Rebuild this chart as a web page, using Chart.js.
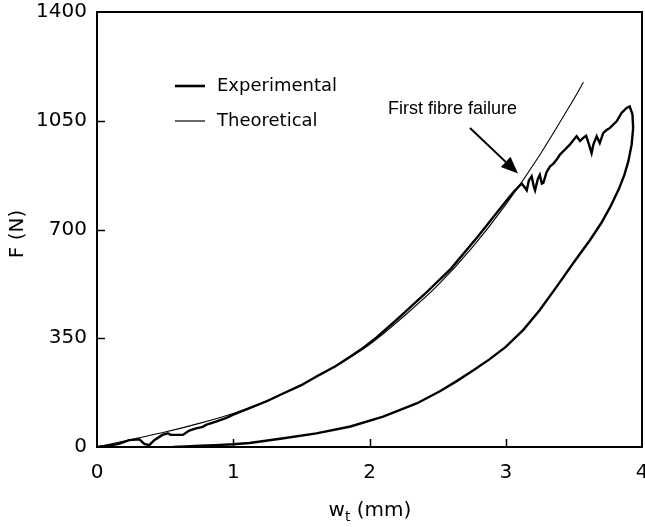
<!DOCTYPE html>
<html>
<head>
<meta charset="utf-8">
<script src="https://cdn.jsdelivr.net/npm/chart.js@4/dist/chart.umd.min.js"></script>
<style>
  body { margin: 0; background: #fff; }
  #wrap { width: 645px; height: 527px; }
</style>
</head>
<body>
<div id="wrap"><canvas id="loadChart" width="645" height="527"></canvas></div>
<script>
// deflection (mm) and load (N), loading branch then unloading branch
const expW = [0, 0.08, 0.16, 0.237, 0.31, 0.347, 0.384, 0.42, 0.48, 0.52, 0.54, 0.63, 0.677, 0.727, 0.776, 0.8, 0.873, 0.95,
  1.0, 1.12, 1.25, 1.37, 1.5, 1.61, 1.75, 1.86, 1.95, 2.05, 2.2, 2.4, 2.6, 2.8, 3.0, 3.06, 3.117,
  3.14, 3.154, 3.17, 3.19, 3.205, 3.215, 3.235, 3.25, 3.265, 3.276, 3.3, 3.325, 3.35, 3.374, 3.398, 3.43, 3.47, 3.5,
  3.52, 3.545, 3.569, 3.59, 3.61, 3.63, 3.643, 3.667, 3.69, 3.716, 3.74, 3.765, 3.79, 3.814, 3.85, 3.887, 3.91,
  3.93, 3.935, 3.924, 3.9, 3.87, 3.83, 3.77, 3.7, 3.62, 3.496, 3.374, 3.25, 3.129, 3.0, 2.88, 2.76, 2.64,
  2.52, 2.35, 2.1, 1.86, 1.61, 1.37, 1.12, 1.0, 0.87, 0.76, 0.65, 0.56];
const expF = [0, 4, 10, 22, 25, 10, 6, 22, 39, 44, 39, 39, 53, 60, 65, 71, 82, 94,
  104, 125, 148, 173, 199, 227, 260, 291, 318, 352, 410, 490, 575, 680, 790, 822, 848,
  835, 826, 858, 871, 840, 826, 862, 876, 848, 850, 885, 903, 912, 925, 941, 955, 973, 990,
  1000, 985, 995, 1002, 975, 946, 973, 1000, 978, 1011, 1020, 1027, 1038, 1048, 1075, 1091, 1096,
  1070, 1027, 973, 920, 875, 830, 775, 720, 667, 592, 516, 441, 377, 322, 282, 246, 212,
  180, 141, 98, 66, 44, 28, 13, 9, 6, 4, 2, 0];

const theoW = [0, 0.25, 0.5, 0.75, 1.0, 1.25, 1.5, 1.75, 2.0, 2.25, 2.5, 2.75, 3.0, 3.25, 3.5, 3.57];
const theoF = [0, 24, 48, 76, 108, 150, 200, 260, 330, 420, 520, 640, 780, 940, 1120, 1174];

const xTicks = [0, 1, 2, 3, 4];
const yTicks = [0, 350, 700, 1050, 1400];

const seriesNames = ['Experimental', 'Theoretical'];

const toPoints = (xs, ys) => xs.map((x, i) => ({ x: x, y: ys[i] }));

// frame, inward ticks, axis titles, key and the failure note
const decorations = {
  id: 'decorations',
  afterDatasetsDraw(chart) {
    const ctx = chart.ctx;
    const a = chart.chartArea;
    const xs = chart.scales.x;
    const ys = chart.scales.y;
    ctx.save();
    ctx.strokeStyle = '#000';
    ctx.fillStyle = '#000';

    ctx.lineWidth = 2;
    ctx.strokeRect(a.left, a.top, a.right - a.left, a.bottom - a.top);

    ctx.lineWidth = 1.5;
    ctx.beginPath();
    xTicks.slice(1, -1).forEach(v => {
      const px = Math.round(xs.getPixelForValue(v)) + 0.5;
      ctx.moveTo(px, a.bottom);
      ctx.lineTo(px, a.bottom - 8);
    });
    yTicks.slice(1, -1).forEach(v => {
      const py = Math.round(ys.getPixelForValue(v)) + 0.5;
      ctx.moveTo(a.left, py);
      ctx.lineTo(a.left + 8, py);
    });
    ctx.stroke();

    // axis titles
    ctx.font = '20px "DejaVu Sans"';
    ctx.textBaseline = 'middle';
    ctx.textAlign = 'center';
    ctx.save();
    ctx.translate(18, 234);
    ctx.rotate(-Math.PI / 2);
    ctx.fillText('F (N)', 0, 0);
    ctx.restore();

    ctx.textBaseline = 'alphabetic';
    ctx.textAlign = 'left';
    const wW = ctx.measureText('w').width;
    ctx.font = '14px "DejaVu Sans"';
    const tW = ctx.measureText('t').width;
    ctx.font = '20px "DejaVu Sans"';
    const restW = ctx.measureText(' (mm)').width;
    let tx = 370 - (wW + tW + restW) / 2;
    ctx.fillText('w', tx, 516);
    tx += wW;
    ctx.font = '14px "DejaVu Sans"';
    ctx.fillText('t', tx, 521);
    tx += tW;
    ctx.font = '20px "DejaVu Sans"';
    ctx.fillText(' (mm)', tx, 516);

    // key
    ctx.font = '18px "DejaVu Sans"';
    ctx.textBaseline = 'middle';
    [[86, 2.6], [121, 1.2]].forEach(([ly, lw], i) => {
      ctx.lineWidth = lw;
      ctx.beginPath();
      ctx.moveTo(175, ly);
      ctx.lineTo(205, ly);
      ctx.stroke();
      ctx.fillText(seriesNames[i], 217, ly);
    });

    // first fibre failure note with arrow
    ctx.font = '18px "Liberation Sans", Arial, sans-serif';
    ctx.fillText('First fibre failure', 388, 109);
    const tipX = xs.getPixelForValue(3.09);
    const tipY = ys.getPixelForValue(880);
    const sx = 470, sy = 128;
    const ang = Math.atan2(tipY - sy, tipX - sx);
    const headL = 17, headW = 7;
    const bx = tipX - headL * Math.cos(ang);
    const by = tipY - headL * Math.sin(ang);
    ctx.lineWidth = 2;
    ctx.beginPath();
    ctx.moveTo(sx, sy);
    ctx.lineTo(bx, by);
    ctx.stroke();
    ctx.beginPath();
    ctx.moveTo(tipX, tipY);
    ctx.lineTo(bx + headW * Math.sin(ang), by - headW * Math.cos(ang));
    ctx.lineTo(bx - headW * Math.sin(ang), by + headW * Math.cos(ang));
    ctx.closePath();
    ctx.fill();
    ctx.restore();
  }
};

new Chart(document.getElementById('loadChart'), {
  type: 'scatter',
  data: {
    datasets: [
      {
        label: seriesNames[0],
        data: toPoints(expW, expF),
        showLine: true,
        borderColor: '#000',
        borderWidth: 2.4,
        pointRadius: 0,
        tension: 0,
        fill: false
      },
      {
        label: seriesNames[1],
        data: toPoints(theoW, theoF),
        showLine: true,
        borderColor: '#000',
        borderWidth: 1.1,
        pointRadius: 0,
        tension: 0.3,
        fill: false
      }
    ]
  },
  options: {
    responsive: false,
    animation: false,
    devicePixelRatio: 1,
    layout: { padding: { top: 12, right: 3, left: 0, bottom: 0 } },
    plugins: {
      legend: { display: false },
      tooltip: { enabled: false }
    },
    scales: {
      x: {
        type: 'linear',
        min: 0,
        max: 4,
        afterBuildTicks: s => { s.ticks = xTicks.map(v => ({ value: v })); },
        afterFit: s => {
          s.height = 80;
          s.paddingLeft = 0;
          s.paddingRight = 0;
        },
        grid: { display: false },
        border: { display: false },
        ticks: {
          color: '#000',
          padding: 6,
          maxRotation: 0,
          callback: v => String(v),
          font: { family: 'DejaVu Sans', size: 20 }
        }
      },
      y: {
        min: 0,
        max: 1400,
        afterBuildTicks: s => { s.ticks = yTicks.map(v => ({ value: v })); },
        afterFit: s => {
          s.width = 97;
          s.paddingTop = 0;
          s.paddingBottom = 0;
        },
        grid: { display: false },
        border: { display: false },
        ticks: {
          color: '#000',
          padding: 2,
          callback: v => String(v),
          font: { family: 'DejaVu Sans', size: 20 }
        }
      }
    }
  },
  plugins: [decorations]
});
</script>
</body>
</html>
